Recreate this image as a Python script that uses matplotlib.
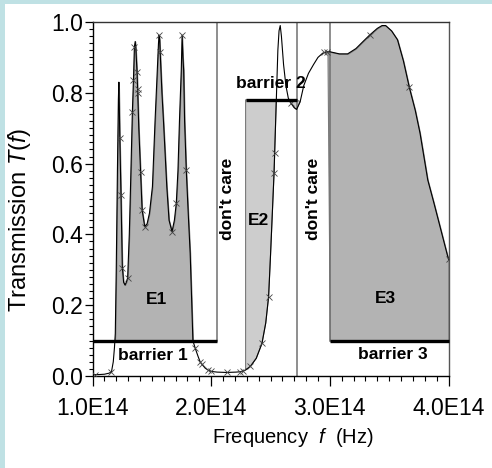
import numpy as np
import matplotlib
matplotlib.use("Agg")
import matplotlib.pyplot as plt
from matplotlib.patches import Rectangle
from matplotlib.ticker import FixedLocator, FixedFormatter, MultipleLocator

plt.rcParams['font.family'] = ['Liberation Sans', 'DejaVu Sans']
plt.rcParams['mathtext.fontset'] = 'custom'
plt.rcParams['mathtext.it'] = 'Liberation Sans:italic'
plt.rcParams['mathtext.rm'] = 'Liberation Sans'

# ---------------- data (frequency in units of 1E14 Hz) ----------------
freq_e14 = [1.00, 1.05, 1.10, 1.14, 1.16, 1.175, 1.185, 1.192, 1.20, 1.21,
            1.218, 1.222, 1.226, 1.23, 1.24, 1.251, 1.262, 1.274, 1.285, 1.296,
            1.31, 1.32, 1.336, 1.345, 1.353, 1.36, 1.366, 1.375, 1.38, 1.39,
            1.405, 1.418, 1.44, 1.46, 1.48, 1.505, 1.527, 1.546, 1.556, 1.561,
            1.566, 1.57, 1.585, 1.598, 1.626, 1.645, 1.67, 1.69, 1.706, 1.72,
            1.733, 1.748, 1.755, 1.762, 1.768, 1.776, 1.79, 1.808, 1.823, 1.835,
            1.846, 1.865, 1.89, 1.907, 1.92, 1.95, 1.977, 2.00, 2.05, 2.13,
            2.21, 2.245, 2.27, 2.29, 2.33, 2.38, 2.428, 2.46, 2.484, 2.50,
            2.518, 2.53, 2.535, 2.549, 2.562, 2.572, 2.582, 2.592, 2.61, 2.63,
            2.65, 2.67, 2.70, 2.72, 2.75, 2.78, 2.82, 2.863, 2.90, 2.94,
            2.98, 3.00, 3.08, 3.15, 3.22, 3.28, 3.335, 3.40, 3.44, 3.47,
            3.52, 3.57, 3.62, 3.67, 3.72, 3.76, 3.825, 3.876, 3.93, 3.99,
            4.00]
trans = [0.004, 0.004, 0.005, 0.008, 0.012, 0.04, 0.08, 0.12, 0.30, 0.58,
         0.78, 0.83, 0.76, 0.672, 0.511, 0.31, 0.265, 0.257, 0.265, 0.277,
         0.40, 0.53, 0.747, 0.836, 0.93, 0.945, 0.92, 0.86, 0.81, 0.70,
         0.577, 0.469, 0.422, 0.43, 0.46, 0.535, 0.72, 0.864, 0.94, 0.963,
         0.95, 0.916, 0.80, 0.72, 0.535, 0.44, 0.408, 0.44, 0.488, 0.58,
         0.723, 0.864, 0.963, 0.90, 0.864, 0.72, 0.582, 0.45, 0.347, 0.22,
         0.10, 0.079, 0.055, 0.04, 0.034, 0.022, 0.016, 0.013, 0.011, 0.010,
         0.011, 0.012, 0.014, 0.017, 0.027, 0.05, 0.092, 0.15, 0.224, 0.34,
         0.48, 0.574, 0.629, 0.78, 0.92, 0.975, 0.99, 0.96, 0.88, 0.82,
         0.785, 0.772, 0.758, 0.753, 0.775, 0.82, 0.855, 0.88, 0.90, 0.912,
         0.916, 0.916, 0.91, 0.91, 0.925, 0.945, 0.963, 0.982, 0.99, 0.99,
         0.975, 0.95, 0.89, 0.815, 0.75, 0.686, 0.554, 0.49, 0.42, 0.342,
         0.33]

marker_freq_e14 = [1.02, 1.16, 1.23, 1.24, 1.25, 1.296, 1.336, 1.345, 1.353,
                   1.375, 1.38, 1.382, 1.405, 1.418, 1.44, 1.561, 1.57, 1.67,
                   1.706, 1.755, 1.79, 1.865, 1.907, 1.92, 1.977, 2.00, 2.13,
                   2.245, 2.27, 2.33, 2.428, 2.484, 2.53, 2.535, 2.67, 2.95,
                   2.98, 3.335, 3.67, 4.00]
marker_trans = [0.004, 0.012, 0.672, 0.511, 0.305, 0.277, 0.747, 0.836, 0.93,
                0.86, 0.81, 0.80, 0.577, 0.469, 0.422, 0.963, 0.916, 0.408,
                0.488, 0.963, 0.582, 0.079, 0.04, 0.034, 0.016, 0.013, 0.010,
                0.012, 0.014, 0.027, 0.092, 0.224, 0.574, 0.629, 0.772, 0.914,
                0.916, 0.963, 0.815, 0.33]

# regions / barriers
barrier_levels = [0.1, 0.78, 0.1]
region_e1 = (1.00, 2.05)
region_e2 = (2.29, 2.72)
region_e3 = (3.00, 4.00)

xtick_vals_e14 = [1.0, 2.0, 3.0, 4.0]
xtick_labels = ["1.0E14", "2.0E14", "3.0E14", "4.0E14"]
ytick_vals = [0.0, 0.2, 0.4, 0.6, 0.8, 1.0]
ytick_labels = ["0.0", "0.2", "0.4", "0.6", "0.8", "1.0"]

# ---------------- figure ----------------
W, H = 492, 468
fig = plt.figure(figsize=(W / 100, H / 100), dpi=100)
fig.patch.set_facecolor('white')
cyan = '#bfe1e4'
fig.patches.append(Rectangle((0, 0), 5 / W, 1, transform=fig.transFigure,
                             facecolor=cyan, edgecolor='none', zorder=0))
fig.patches.append(Rectangle((0, 1 - 4 / H), 1, 4 / H, transform=fig.transFigure,
                             facecolor=cyan, edgecolor='none', zorder=0))

ax = fig.add_axes([92.5 / W, 1 - 376 / H, 356 / W, 354 / H])

E = 1e14
f = np.array(freq_e14) * E
T = np.array(trans)

dark_fill = '#b3b3b3'
light_fill = '#cdcdcd'
edge_gray = '#7a7a7a'

# E1 fill
m1 = (f >= region_e1[0] * E) & (f <= region_e1[1] * E) & (T >= barrier_levels[0])
ax.fill_between(f, T, barrier_levels[0], where=m1, interpolate=True,
                facecolor=dark_fill, edgecolor=edge_gray, linewidth=0.8, zorder=1)
# E2 fill
m2 = (f >= region_e2[0] * E) & (f <= region_e2[1] * E) & (T <= barrier_levels[1])
ax.fill_between(f, T, barrier_levels[1], where=m2, interpolate=True,
                facecolor=light_fill, edgecolor=edge_gray, linewidth=0.8, zorder=1)
# E3 fill
m3 = (f >= region_e3[0] * E) & (f <= region_e3[1] * E)
ax.fill_between(f, T, barrier_levels[2], where=m3, interpolate=True,
                facecolor=dark_fill, edgecolor=edge_gray, linewidth=0.8, zorder=1)

# vertical region boundaries
vcol = '#707070'
ax.plot([region_e1[1] * E] * 2, [barrier_levels[0], 1.0], color=vcol, lw=1.1, zorder=2)
ax.plot([region_e2[1] * E] * 2, [0.0, 1.0], color=vcol, lw=1.1, zorder=2)
ax.plot([region_e3[0] * E] * 2, [barrier_levels[2], 1.0], color=vcol, lw=1.1, zorder=2)

# curve and markers
ax.plot(f, T, color='black', lw=0.8, zorder=4)
ax.plot(np.array(marker_freq_e14) * E, marker_trans, linestyle='none', marker='x',
        markersize=4, markeredgewidth=0.6, color='#444444', zorder=5)

# barrier lines
ax.plot([region_e1[0] * E, region_e1[1] * E], [barrier_levels[0]] * 2,
        color='black', lw=2.4, solid_capstyle='butt', zorder=6, clip_on=False)
ax.plot([region_e2[0] * E, region_e2[1] * E], [barrier_levels[1]] * 2,
        color='black', lw=2.4, solid_capstyle='butt', zorder=6)
ax.plot([region_e3[0] * E, region_e3[1] * E], [barrier_levels[2]] * 2,
        color='black', lw=2.4, solid_capstyle='butt', zorder=6, clip_on=False)

# annotations
bold = dict(fontsize=12.5, fontweight='bold', color='black', zorder=7)
ax.text(1.54 * E, 0.215, "E1", ha='center', va='center', **bold)
ax.text(2.40 * E, 0.44, "E2", ha='center', va='center', **bold)
ax.text(3.47 * E, 0.22, "E3", ha='center', va='center', **bold)
ax.text(1.51 * E, 0.058, "barrier 1", ha='center', va='center', **bold)
ax.text(2.50 * E, 0.825, "barrier 2", ha='center', va='center', **bold)
ax.text(3.53 * E, 0.062, "barrier 3", ha='center', va='center', **bold)
ax.text(2.135 * E, 0.50, "don't care", ha='center', va='center', rotation=90, **bold)
ax.text(2.86 * E, 0.50, "don't care", ha='center', va='center', rotation=90, **bold)

# axes
ax.set_xlim(1.0 * E, 4.0 * E)
ax.set_ylim(0.0, 1.0)
ax.xaxis.set_major_locator(FixedLocator([v * E for v in xtick_vals_e14]))
ax.xaxis.set_major_formatter(FixedFormatter(xtick_labels))
ax.xaxis.set_minor_locator(MultipleLocator(0.1 * E))
ax.yaxis.set_major_locator(FixedLocator(ytick_vals))
ax.yaxis.set_major_formatter(FixedFormatter(ytick_labels))
ax.yaxis.set_minor_locator(MultipleLocator(0.02))

ax.tick_params(axis='x', which='major', direction='out', length=7, width=0.9,
               labelsize=16.5, pad=8)
ax.tick_params(axis='x', which='minor', direction='out', length=3.5, width=0.8)
ax.tick_params(axis='y', which='major', direction='out', length=6, width=0.9,
               labelsize=16.5, pad=1)
ax.tick_params(axis='y', which='minor', direction='out', length=3, width=0.8)

for s in ax.spines.values():
    s.set_linewidth(1.0)
    s.set_color('black')
ax.spines['top'].set_color('#333333')
ax.spines['right'].set_color('#555555')

ax.set_xlabel(r"Frequency  $f$  (Hz)", fontsize=14.5)
ax.set_ylabel(r"Transmission $T(f)$", fontsize=17)
ax.xaxis.set_label_coords((293 - 92.5) / 356, -(426 - 376) / 354)
ax.yaxis.set_label_coords((33 - 92.5) / 356, (376 - 220) / 354)

fig.savefig("out.png", dpi=100)
